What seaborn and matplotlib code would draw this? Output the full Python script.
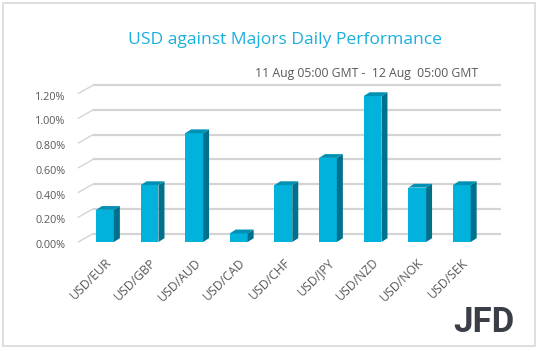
import matplotlib
matplotlib.use("Agg")
import matplotlib.pyplot as plt
import seaborn as sns
import pandas as pd
from matplotlib.transforms import ScaledTranslation
from matplotlib.patches import Polygon, Rectangle

pairs = ["USD/EUR", "USD/GBP", "USD/AUD", "USD/CAD", "USD/CHF",
         "USD/JPY", "USD/NZD", "USD/NOK", "USD/SEK"]
values = [0.26, 0.46, 0.88, 0.07, 0.46, 0.68, 1.18, 0.44, 0.46]
yticks = [0.0, 0.2, 0.4, 0.6, 0.8, 1.0, 1.2]
ytick_labels = ["0.00%", "0.20%", "0.40%", "0.60%", "0.80%", "1.00%", "1.20%"]
title = "USD against Majors Daily Performance"
subtitle = "11 Aug 05:00 GMT -  12 Aug  05:00 GMT"

sns.set_theme(style="white")
plt.rcParams['font.family'] = ['Open Sans', 'DejaVu Sans']

W, H, DPI = 538, 351, 100
fig = plt.figure(figsize=(W / DPI, H / DPI), dpi=DPI)
fig.patch.set_facecolor("white")

# axes placement (pixels)
left_px, right_px = 78.2, 488.5
bot_px, top_px = 242.0, 93.6
ax = fig.add_axes([left_px / W, 1 - bot_px / H, (right_px - left_px) / W, (bot_px - top_px) / H])
ax.set_facecolor("none")

df = pd.DataFrame({"pair": pairs, "value": values})
front = "#00B2DC"
side = "#00708C"
topc = "#0090B3"
sns.barplot(data=df, x="pair", y="value", color=front, saturation=1, width=0.40,
            ax=ax, zorder=3)
ax.set_xlim(-0.6, 8.6)
ax.set_ylim(0, 1.2)

# depth offsets in pixels
dx, dy = 6 / DPI, 3.8 / DPI
off = ScaledTranslation(dx, dy, fig.dpi_scale_trans)
gdx, gdy = 15 / DPI, 8.5 / DPI
goff = ScaledTranslation(gdx, gdy, fig.dpi_scale_trans)

# gridlines on back wall with floor diagonals
grid_c = "#D4D4D4"
for v in yticks:
    ax.plot([-0.6, 8.55], [v, v], color=grid_c, lw=1.6, transform=ax.transData + goff,
            zorder=1, clip_on=False, solid_capstyle="butt")
    p0 = ax.transData.transform((-0.6, v))
    p1 = (ax.transData + goff).transform((-0.6, v))
    inv = ax.transData.inverted()
    a = inv.transform(p0)
    b = inv.transform(p1)
    ax.plot([a[0], b[0]], [a[1], b[1]], color=grid_c, lw=1.0, zorder=1, clip_on=False)

# 3D faces for bars
inv = ax.transData.inverted()
for patch in ax.patches[:len(values)]:
    patch.set_edgecolor("none")
    x0, y0 = patch.get_x(), patch.get_y()
    w, h = patch.get_width(), patch.get_height()
    disp = lambda x, y: ax.transData.transform((x, y))
    bl, br, tl, tr = disp(x0, y0), disp(x0 + w, y0), disp(x0, y0 + h), disp(x0 + w, y0 + h)
    o = (dx * DPI, dy * DPI)
    sh = lambda p: (p[0] + o[0], p[1] + o[1])
    side_poly = [br, tr, sh(tr), sh(br)]
    top_poly = [tl, tr, sh(tr), sh(tl)]
    for poly, c in [(side_poly, side), (top_poly, topc)]:
        pts = [inv.transform(p) for p in poly]
        ax.add_patch(Polygon(pts, closed=True, facecolor=c, edgecolor="none",
                             zorder=3, clip_on=False))

ax.set_yticks(yticks)
ax.set_yticklabels(ytick_labels)
ax.tick_params(axis="y", length=0, pad=9, labelsize=7.8, labelcolor="#595959")
ax.tick_params(axis="x", length=0, pad=10, labelsize=8.8, labelcolor="#595959")
for lab in ax.get_yticklabels():
    lab.set_transform(lab.get_transform() + ScaledTranslation(0, -2 / DPI, fig.dpi_scale_trans))
for lab in ax.get_xticklabels():
    lab.set_rotation(45)
    lab.set_ha("right")
    lab.set_va("top")
    lab.set_rotation_mode("anchor")
ax.set_xlabel("")
ax.set_ylabel("")
ax.grid(False)
for s in ax.spines.values():
    s.set_visible(False)

# title and subtitle
fig.text(285 / W, 1 - 40 / H, title, ha="center", va="center", fontsize=12.6,
         color="#1CAFDD")
fig.text(478 / W, 1 - 74 / H, subtitle, ha="right", va="center", fontsize=8.8,
         color="#595959")

# JFD logo
fig.text(484 / W, 1 - 323 / H, "JFD", ha="center", va="center", fontsize=25,
         fontweight="bold", color="#3A3F47", family=["Roboto", "DejaVu Sans"])

# border
fig.patches.append(Rectangle((2.5 / W, 1 - 345.5 / H), 532.5 / W, 343 / H,
                             transform=fig.transFigure, fill=False,
                             edgecolor="#D9D9D9", lw=1.2))

fig.savefig("out.png", dpi=DPI, facecolor="white")
